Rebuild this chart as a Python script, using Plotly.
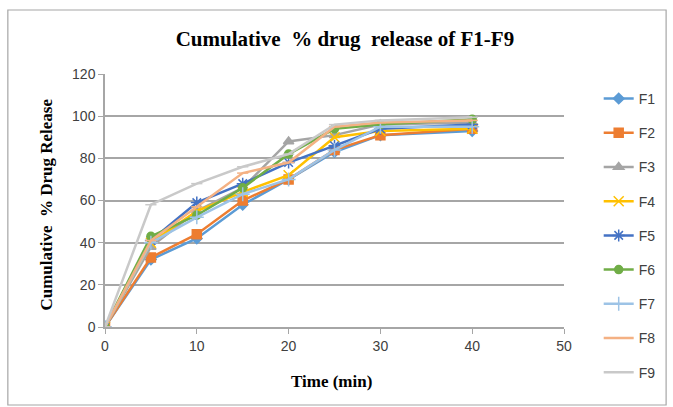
import plotly.graph_objects as go

time_min = [0, 5, 10, 15, 20, 25, 30, 40]
F1 = [0, 32, 42, 58, 70, 83, 91, 93]
F2 = [0, 33, 44, 60, 70, 84, 91, 94]
F3 = [0, 38, 55, 66, 88, 91, 96, 97]
F4 = [0, 40, 55, 64, 72, 90, 93, 94]
F5 = [0, 41, 59, 68, 78, 86, 94, 96]
F6 = [0, 43, 53, 66, 82, 94, 96, 98.5]
F7 = [0, 40, 52, 63, 70, 84, 95, 95]
F8 = [0, 41, 57, 73, 78, 95, 97, 98]
F9 = [0, 58, 68, 76, 82, 96, 98, 99.5]

series = [
    ("F1", F1, "#5B9BD5", "diamond", 8),
    ("F2", F2, "#ED7D31", "square", 9),
    ("F3", F3, "#A5A5A5", "triangle-up", 9),
    ("F4", F4, "#FFC000", "x-thin-open", 10),
    ("F5", F5, "#4472C4", "asterisk-open", 10),
    ("F6", F6, "#70AD47", "circle", 8),
    ("F7", F7, "#9DC3E6", "cross-thin-open", 10),
    ("F8", F8, "#F4B183", "line-ew-open", 8),
    ("F9", F9, "#C9C9C9", "line-ew-open", 8),
]

fig = go.Figure()
for name, vals, col, sym, sz in series:
    fig.add_trace(go.Scatter(
        x=time_min, y=vals, name=name, mode="lines+markers",
        legendgroup=name,
        line=dict(color=col, width=2.5),
        marker=dict(symbol=sym, size=sz, color=col,
                    line=dict(color=col, width=1.5)),
    ))

W, H = 673, 407
L, R, T, B = 105, 105, 74, 80
pw, ph = W - L - R, H - T - B

def px(x):
    return (x - L) / pw

def py(y):
    return (H - B - y) / ph

fig.update_layout(
    width=W, height=H,
    margin=dict(l=L, r=R, t=T, b=B),
    paper_bgcolor="white", plot_bgcolor="white",
    title=dict(text="<b>Cumulative  % drug  release of F1-F9</b>",
               x=px(347), xref="paper", xanchor="center",
               y=1 - 39 / H, yanchor="middle",
               font=dict(family="Liberation Serif", size=21, color="black")),
    xaxis=dict(range=[0, 50], tickvals=[0, 10, 20, 30, 40, 50],
               showgrid=False, zeroline=False,
               showline=True, linecolor="#A6A6A6", linewidth=1.5,
               ticks="outside", ticklen=5, tickcolor="#A6A6A6",
               tickfont=dict(family="Liberation Sans", size=14, color="#404040")),
    yaxis=dict(range=[0, 120], tickvals=[0, 20, 40, 60, 80, 100, 120],
               showgrid=True, gridcolor="#A6A6A6", gridwidth=1.5,
               zeroline=False, showline=True, linecolor="#A6A6A6", linewidth=1.5,
               ticks="outside", ticklen=5, tickcolor="#A6A6A6",
               tickfont=dict(family="Liberation Sans", size=14, color="#404040")),
    legend=dict(x=px(603), y=py(83), xanchor="left", yanchor="top",
                font=dict(family="Liberation Sans", size=14, color="#404040"),
                tracegroupgap=13, bgcolor="rgba(0,0,0,0)", maxheight=600),
    showlegend=True,
)

fig.add_annotation(text="<b>Time (min)</b>", x=px(333), y=py(381),
                   xref="paper", yref="paper", showarrow=False,
                   xanchor="center", yanchor="middle",
                   font=dict(family="Liberation Serif", size=17, color="black"))
fig.add_annotation(text="<b>Cumulative  % Drug Release</b>", x=px(45), y=py(205),
                   xref="paper", yref="paper", showarrow=False, textangle=-90,
                   xanchor="center", yanchor="middle",
                   font=dict(family="Liberation Serif", size=17, color="black"))

fig.add_shape(type="rect", xref="paper", yref="paper",
              x0=px(7), x1=px(671), y0=py(405), y1=py(10),
              line=dict(color="#A6A6A6", width=1.2), layer="below")

fig.write_html("out.html")
